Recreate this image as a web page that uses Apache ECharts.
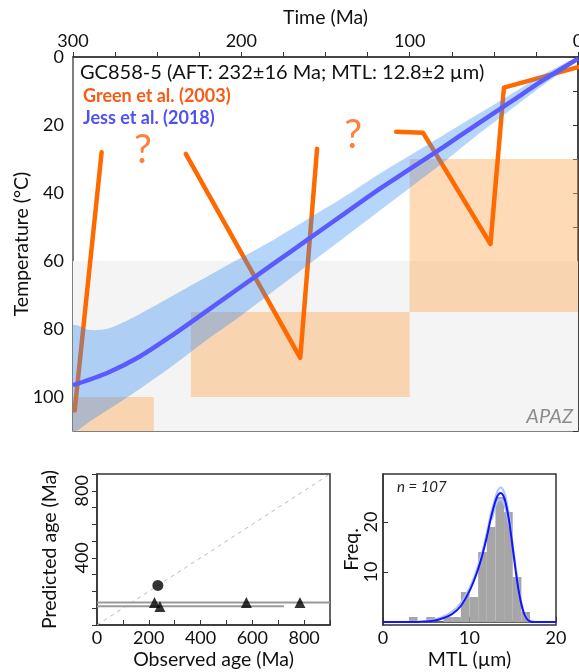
<!DOCTYPE html>
<html><head><meta charset="utf-8">
<script src="https://cdn.jsdelivr.net/npm/echarts@6/dist/echarts.min.js"></script>
<style>html,body{margin:0;padding:0;background:#fff}#c{width:579px;height:672px}</style>
</head><body><div id="c"></div>
<script>
const FONT = 'Lato, "Liberation Sans", sans-serif';

// ---- main panel data ----
const timeLabels = [0, 100, 200, 300];
const apazBox = [[0, 300, 60, 110]];                 // [tA, tB, Ttop, Tbottom]
const greenBoxes = [[300, 252, 100, 110], [230, 100, 75, 100], [100, 0, 30, 75]];
const greenA = [[299, 104], [283, 28]];
const greenB = [[233, 28.5], [165, 88.5], [155, 27]];
const greenC = [[108, 22], [92, 22.3], [52, 55], [44, 9], [0, 3]];
const questionMarks = [[258.5, 27.5], [133.5, 23]];
const jessTime = [300, 280, 260, 240, 220, 200, 180, 160, 140, 120, 100, 80, 60, 40, 20, 0];
const jessMean = [96.5, 93, 88, 81.5, 74.5, 67.5, 60.5, 53.5, 46.5, 39.5, 33, 26.5, 19.8, 13.2, 6.6, 0.5];
const bandTime = [300, 290, 280, 270, 260, 240, 220, 200, 180, 160, 140, 120, 100, 80, 60, 40, 20, 0];
const bandCool = [79, 80.3, 80, 78, 75.5, 70, 64.5, 59, 53.5, 47.5, 41.5, 35, 29, 23, 17, 11, 5, 0];
const bandHot = [110, 107.2, 104, 100.8, 97.5, 90.5, 83, 76, 68.5, 61, 53.5, 46, 38.5, 31, 23, 15.5, 8, 1];

// ---- age comparison panel ----
const obsCircle = [[235, 236]];
const obsTriangles = [[222, 134], [243, 110], [577, 134], [784, 134]];
const errLineA = [[0, 134], [900, 134]];
const errLineB = [[0, 112], [722, 112]];
const oneToOne = [[0, 0], [900, 900]];

// ---- track length panel ----
const binStart = [3, 5, 7, 8, 9, 10, 11, 12, 13, 14, 15, 16];
const binCount = [1, 1, 1, 1, 6, 5, 14, 19, 25, 22, 9, 2];
const fitDark = [[0,0],[4,0.02],[5,0.1],[6,0.3],[7,0.8],[8,1.6],[9,3.2],[10,6.2],[10.5,8.2],[11,10.6],[11.5,13.5],[12,17],[12.5,21],[13,24.2],[13.3,25.4],[13.6,25.8],[13.9,25.3],[14.2,23.7],[14.6,20],[15,14.8],[15.4,9.5],[15.8,5.2],[16.2,2.2],[16.6,0.7],[17,0.1],[17.5,0],[20,0]];
const fitLightHi = [[0,0],[4,0.05],[5,0.2],[6,0.5],[7,1.1],[8,2.1],[9,3.8],[10,6.8],[10.5,8.8],[11,11.3],[11.5,14.2],[12,17.8],[12.5,21.8],[13,25],[13.3,26.4],[13.6,26.9],[13.9,26.4],[14.2,24.8],[14.6,21],[15,15.6],[15.4,10.2],[15.8,5.6],[16.2,2.5],[16.6,0.8],[17,0.15],[17.5,0],[20,0]];
const fitLightLo = [[12.6,20.5],[13,23.2],[13.3,24.2],[13.6,24.5],[13.9,24],[14.2,22.5],[14.6,19]];

const AX = '#333', TXT = '#111';
const LBL = 18, TTL = 19.5;

function rectItem(fill) {
  return function (params, api) {
    const p1 = api.coord([api.value(0), api.value(2)]);
    const p2 = api.coord([api.value(1), api.value(3)]);
    return {
      type: 'rect',
      shape: { x: Math.min(p1[0], p2[0]), y: Math.min(p1[1], p2[1]), width: Math.abs(p2[0] - p1[0]), height: Math.abs(p2[1] - p1[1]) },
      style: { fill: fill }
    };
  };
}

const chart = echarts.init(document.getElementById('c'), null, { renderer: 'canvas' });

const option = {
  animation: false,
  backgroundColor: '#fff',
  textStyle: { fontFamily: FONT },
  grid: [
    { left: 73, top: 57, width: 505, height: 374, show: true, borderColor: '#555', borderWidth: 1.5, backgroundColor: 'transparent', containLabel: false, outerBoundsMode: 'none' },
    { left: 97, top: 474, width: 233, height: 151, show: true, borderColor: '#333', borderWidth: 1.5, containLabel: false, outerBoundsMode: 'none' },
    { left: 383, top: 474, width: 173, height: 151, show: true, borderColor: '#333', borderWidth: 1.5, containLabel: false, outerBoundsMode: 'none' }
  ],
  xAxis: [
    {
      gridIndex: 0, type: 'value', min: 0, max: 300, interval: 100, inverse: true, position: 'top',
      axisLine: { show: true, lineStyle: { color: AX, width: 1.5 } },
      axisTick: { show: true, inside: false, length: 5, lineStyle: { color: AX } },
      minorTick: { show: true, splitNumber: 4, length: 5, lineStyle: { color: AX } },
      splitLine: { show: false }, minorSplitLine: { show: false },
      axisLabel: { fontSize: LBL, color: TXT, margin: 7, fontFamily: FONT,
        customValues: timeLabels },
      name: 'Time (Ma)', nameLocation: 'middle', nameGap: 29, nameMoveOverlap: false,
      nameTextStyle: { fontSize: TTL, color: TXT, fontFamily: FONT }
    },
    {
      gridIndex: 1, type: 'value', min: 0, max: 900, interval: 100,
      axisLine: { show: true, lineStyle: { color: AX, width: 1.5 } },
      axisTick: { show: true, inside: true, length: 5, lineStyle: { color: AX } },
      splitLine: { show: false },
      axisLabel: { fontSize: LBL, color: TXT, margin: 4, fontFamily: FONT,
        formatter: v => (v % 200 === 0 ? String(v) : '') },
      name: 'Observed age (Ma)', nameLocation: 'middle', nameGap: 25, nameMoveOverlap: false,
      nameTextStyle: { fontSize: TTL, color: TXT, fontFamily: FONT }
    },
    {
      gridIndex: 2, type: 'value', min: 0, max: 20, interval: 10,
      axisLine: { show: true, lineStyle: { color: AX, width: 1.5 } },
      axisTick: { show: true, inside: true, length: 5, lineStyle: { color: AX } },
      splitLine: { show: false },
      axisLabel: { fontSize: LBL, color: TXT, margin: 4, fontFamily: FONT },
      name: 'MTL (µm)', nameLocation: 'middle', nameGap: 25, nameMoveOverlap: false,
      nameTextStyle: { fontSize: TTL, color: TXT, fontFamily: FONT }
    }
  ],
  yAxis: [
    {
      gridIndex: 0, type: 'value', min: 0, max: 110, interval: 10, inverse: true,
      axisLine: { show: true, lineStyle: { color: AX, width: 1.5 } },
      axisTick: { show: true, inside: false, length: 5, lineStyle: { color: AX } },
      splitLine: { show: false },
      axisLabel: { fontSize: LBL, color: TXT, margin: 9, fontFamily: FONT,
        formatter: v => (v % 20 === 0 && v <= 100 ? String(v) : '') },
      name: 'Temperature (°C)', nameLocation: 'middle', nameGap: 41, nameMoveOverlap: false,
      nameTextStyle: { fontSize: TTL, color: TXT, fontFamily: FONT }
    },
    {
      gridIndex: 1, type: 'value', min: 0, max: 900, interval: 100,
      axisLine: { show: true, lineStyle: { color: AX, width: 1.5 } },
      axisTick: { show: true, inside: false, length: 5, lineStyle: { color: AX } },
      splitLine: { show: false },
      axisLabel: { fontSize: LBL, color: TXT, margin: 6, rotate: 90, fontFamily: FONT,
        formatter: v => (v === 400 || v === 800 ? String(v) : '') },
      name: 'Predicted age (Ma)', nameLocation: 'middle', nameGap: 37, nameMoveOverlap: false,
      nameTextStyle: { fontSize: TTL, color: TXT, fontFamily: FONT }
    },
    {
      gridIndex: 2, type: 'value', min: -0.6, max: 29.6,
      axisLine: { show: true, lineStyle: { color: AX, width: 1.5 } },
      axisTick: { show: true, inside: true, length: 5, lineStyle: { color: AX }, customValues: [10, 20] },
      splitLine: { show: false },
      axisLabel: { fontSize: LBL, color: TXT, margin: 3, rotate: 90, fontFamily: FONT, customValues: [10, 20] },
      name: 'Freq.', nameLocation: 'middle', nameGap: 21, nameMoveOverlap: false,
      nameTextStyle: { fontSize: TTL, color: TXT, fontFamily: FONT }
    }
  ],
  series: [
    { type: 'custom', name: 'APAZ', xAxisIndex: 0, yAxisIndex: 0, z: 1, silent: true,
      renderItem: rectItem('#f4f4f4'), data: apazBox, clip: true },
    { type: 'custom', name: 'boxes', xAxisIndex: 0, yAxisIndex: 0, z: 2, silent: true,
      renderItem: rectItem('rgba(252,172,95,0.45)'), data: greenBoxes, clip: true },
    ...[greenA, greenB, greenC].map(seg => ({
      type: 'line', xAxisIndex: 0, yAxisIndex: 0, z: 3, data: seg, symbol: 'none',
      lineStyle: { color: '#ff6a00', width: 4.5, cap: 'round', join: 'round' }
    })),
    { type: 'custom', name: 'band', xAxisIndex: 0, yAxisIndex: 0, z: 4, silent: true, clip: true,
      data: bandTime.map((t, i) => [t, bandCool[i], bandHot[i]]),
      renderItem: function (params, api) {
        if (params.dataIndex !== 0) return null;
        const pts = [];
        for (let i = 0; i < bandTime.length; i++) pts.push(api.coord([bandTime[i], bandCool[i]]));
        for (let i = bandTime.length - 1; i >= 0; i--) pts.push(api.coord([bandTime[i], bandHot[i]]));
        return { type: 'polygon', shape: { points: pts, smooth: 0.25 }, style: { fill: 'rgba(52,138,245,0.36)' } };
      }
    },
    { type: 'line', xAxisIndex: 0, yAxisIndex: 0, z: 5, symbol: 'none', smooth: 0.3,
      data: jessTime.map((t, i) => [t, jessMean[i]]),
      lineStyle: { color: '#5a5aff', width: 4.5 } },
    { type: 'scatter', xAxisIndex: 0, yAxisIndex: 0, z: 6, symbolSize: 0, data: questionMarks,
      label: { show: true, position: 'inside', formatter: '?', fontSize: 40, color: '#ff5f0a', fontFamily: FONT } },

    // age comparison
    { type: 'line', xAxisIndex: 1, yAxisIndex: 1, data: oneToOne, symbol: 'none', z: 2,
      lineStyle: { color: '#bbb', width: 1, type: [4, 4] } },
    { type: 'line', xAxisIndex: 1, yAxisIndex: 1, data: errLineA, symbol: 'none', z: 3,
      lineStyle: { color: '#999', width: 2 } },
    { type: 'line', xAxisIndex: 1, yAxisIndex: 1, data: errLineB, symbol: 'none', z: 3,
      lineStyle: { color: '#999', width: 2 } },
    { type: 'scatter', xAxisIndex: 1, yAxisIndex: 1, data: obsTriangles, symbol: 'triangle', symbolSize: 11, z: 4,
      itemStyle: { color: '#000' } },
    { type: 'scatter', xAxisIndex: 1, yAxisIndex: 1, data: obsCircle, symbol: 'circle', symbolSize: 11, z: 4,
      itemStyle: { color: '#000' } },

    // track length histogram
    { type: 'custom', xAxisIndex: 2, yAxisIndex: 2, z: 2, silent: true,
      data: binStart.map((s, i) => [s, s + 1, 0, binCount[i]]),
      renderItem: rectItem('#a6a6a6') },
    { type: 'line', xAxisIndex: 2, yAxisIndex: 2, data: fitLightHi, symbol: 'none', smooth: 0.3, z: 3,
      lineStyle: { color: '#a9c6ff', width: 2 } },
    { type: 'line', xAxisIndex: 2, yAxisIndex: 2, data: fitLightLo, symbol: 'none', smooth: 0.3, z: 3,
      lineStyle: { color: '#a9c6ff', width: 2 } },
    { type: 'line', xAxisIndex: 2, yAxisIndex: 2, data: fitDark, symbol: 'none', smooth: 0.3, z: 4,
      lineStyle: { color: '#1414ff', width: 2 } }
  ],
  graphic: [
    { type: 'text', left: 80, top: 63, z: 100,
      style: { text: 'GC858-5 (AFT: 232±16 Ma; MTL: 12.8±2 µm)', font: '20px ' + FONT, fill: '#111' } },
    { type: 'text', left: 83, top: 87, z: 100,
      style: { text: 'Green et al. (2003)', font: 'bold 18px ' + FONT, fill: '#fa5a14' } },
    { type: 'text', left: 83, top: 109, z: 100,
      style: { text: 'Jess et al. (2018)', font: 'bold 18px ' + FONT, fill: '#5050f5' } },
    { type: 'text', right: 6, top: 407, z: 100,
      style: { text: 'APAZ', font: 'italic 20px ' + FONT, fill: '#8c8c8c' } },
    { type: 'text', left: 397, top: 480, z: 100,
      style: { text: 'n = 107', font: 'italic 15px ' + FONT, fill: '#222' } }
  ]
};
chart.setOption(option);
</script>
</body></html>
